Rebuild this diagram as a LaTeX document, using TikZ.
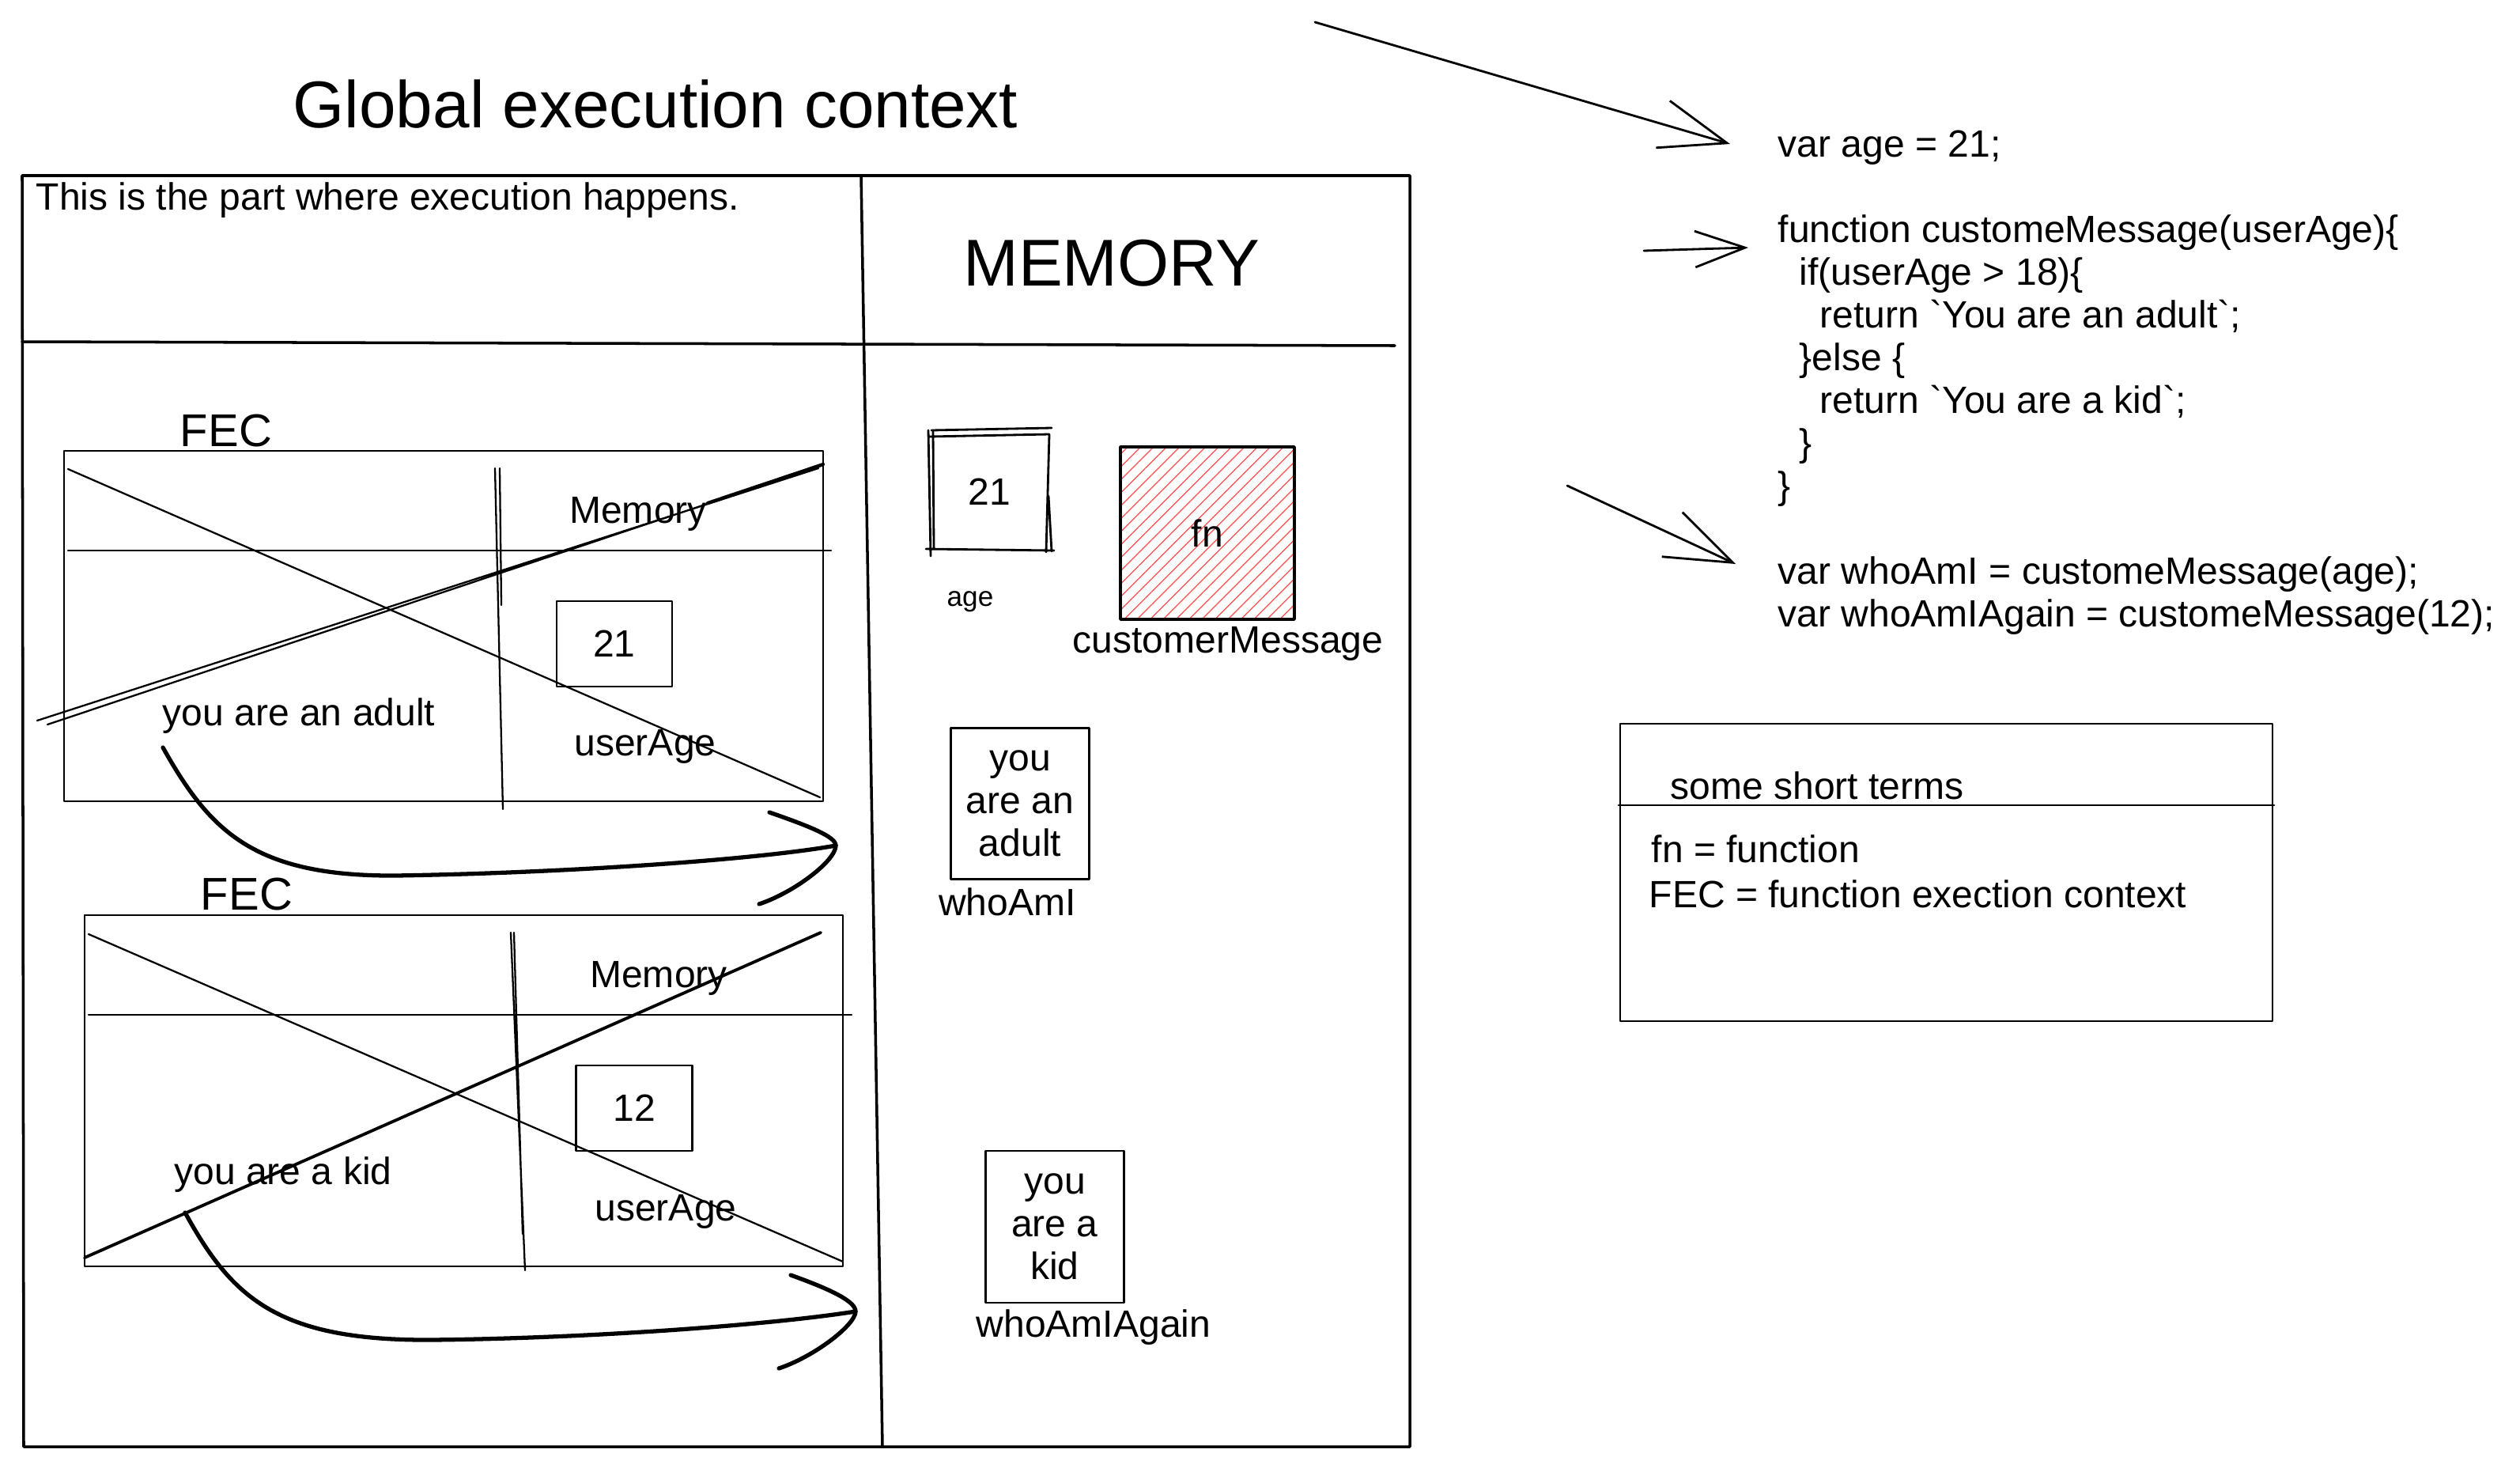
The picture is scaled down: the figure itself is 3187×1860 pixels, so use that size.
\documentclass[tikz,border=0pt]{standalone}
\usepackage{fontspec}
\setmainfont{Liberation Sans}
\usetikzlibrary{arrows.meta,patterns.meta}

\newcommand{\normaltxt}{\fontsize{13.66pt}{15.36pt}\selectfont}
\newcommand{\bigtxt}{\fontsize{23.8pt}{28pt}\selectfont}
\newcommand{\fectxt}{\fontsize{16.5pt}{20pt}\selectfont}
\newcommand{\smalltxt}{\fontsize{10pt}{12pt}\selectfont}

\begin{document}
\begin{tikzpicture}[x=0.01cm, y=-0.01cm, inner sep=0pt, font=\normaltxt, line cap=round, line join=round]
        \useasboundingbox (0,0) rectangle (3187,1860);
        % global context frame
        \node[font=\bigtxt] (title) at (829,132) {Global execution context};
        \draw[line width=1pt] (28,222) -- (1783,222) -- (1783,1829) -- (30,1829) -- cycle;
        \draw[line width=1pt] (1089,222) -- (1116,1829);
        \draw[line width=1pt] (28,432) -- (1764,437);
        \node[anchor=west] (exec) at (45,253) {This is the part where execution happens.};
        \node[font=\bigtxt] (memory) at (1406,333) {MEMORY};

        % first FEC
        \node[font=\fectxt] (fecA) at (286,545) {FEC};
        \draw[line width=0.65pt] (81,570) rectangle (1041,1013);
        \draw[line width=0.65pt] (86,696) -- (1051,696);
        \draw[line width=0.65pt] (626,592) -- (636,1023) (632,592) -- (634,765);
        \draw[line width=0.65pt] (86,593) -- (1037,1008);
        \draw[line width=0.65pt] (47,911) -- (1035,592) (60,916) -- (1041,588);
        \draw[line width=1.2pt] (895,636) -- (1041,587);
        \node (memA) at (807,650) {Memory};
        \node[draw, line width=0.65pt, minimum width=1.46cm, minimum height=1.08cm] (valA) at (777,814) {21};
        \node (userA) at (816,944) {userAge};
        \node (adultTxt) at (378,905) {you are an adult};

        % second FEC
        \node[font=\fectxt] (fecB) at (312,1131) {FEC};
        \draw[line width=0.65pt] (107,1157) rectangle (1066,1601);
        \draw[line width=0.65pt] (112,1283) -- (1077,1283);
        \draw[line width=0.65pt] (646,1179) -- (664,1606) (650,1179) -- (661,1560);
        \draw[line width=0.65pt] (112,1181) -- (1066,1595);
        \draw[line width=1.1pt] (107,1590) -- (1038,1179);
        \node (memB) at (833,1237) {Memory};
        \node[draw, line width=0.65pt, minimum width=1.47cm, minimum height=1.08cm] (valB) at (802,1401) {12};
        \node (userB) at (842,1532) {userAge};
        \node (kidTxt) at (358,1485) {you are a kid};

        % returned values go to memory
        \coordinate (adultTail) at (206,945);
        \coordinate (adultTip) at (1057,1069);
        \draw[line width=1.5pt] (adultTail) .. controls (265,1050) and (320,1108) .. (500,1107) .. controls (700,1104) and (950,1088) .. (adultTip);
        \draw[line width=1.5pt] (973,1027) .. controls (1025,1045) and (1057,1058) .. (adultTip) .. controls (1057,1088) and (1005,1128) .. (960,1143);
        \coordinate (kidTail) at (234,1533);
        \coordinate (kidTip) at (1082,1658);
        \draw[line width=1.5pt] (kidTail) .. controls (293,1640) and (350,1695) .. (545,1694) .. controls (745,1692) and (975,1675) .. (kidTip);
        \draw[line width=1.5pt] (1000,1612) .. controls (1050,1630) and (1082,1645) .. (kidTip) .. controls (1082,1675) and (1030,1715) .. (985,1730);

        % memory cells
        \node (ageVal) at (1251,622) {21};
        \draw[line width=0.8pt] (1178,544) -- (1330,541) (1175,552) -- (1327,549) (1174,544) -- (1177,703) (1180,546) -- (1181,693)
            (1171,694) -- (1333,696) (1327,549) -- (1323,698) (1326,627) -- (1330,697);
        \node[font=\smalltxt] (ageName) at (1227,761) {age};
        \node[draw, line width=1pt, pattern={Lines[angle=45,distance=3.3pt,line width=0.35pt]}, pattern color=red!70,
            minimum width=2.2cm, minimum height=2.18cm] (fnBox) at (1527,674) {fn};
        \node (custName) at (1553,814) {customerMessage};
        \node[draw, line width=0.65pt, minimum width=1.75cm, minimum height=1.91cm, align=center] (whoBox) at (1290,1016) {you\\are an\\adult};
        \node (whoName) at (1274,1140) {whoAmI};
        \node[draw, line width=0.65pt, minimum width=1.75cm, minimum height=1.92cm, align=center] (againBox) at (1334,1551) {you\\are a\\kid};
        \node (againName) at (1383,1678) {whoAmIAgain};

        % the code
        \node[anchor=north west, align=left] (code) at (2248,164) {var age = 21;\\[0.54cm]
            function customeMessage(userAge)\{\\
            \hspace*{0.27cm}if(userAge > 18)\{\\
            \hspace*{0.53cm}return \textasciigrave You are an adult\textasciigrave;\\
            \hspace*{0.27cm}\}else \{\\
            \hspace*{0.53cm}return \textasciigrave You are a kid\textasciigrave;\\
            \hspace*{0.27cm}\}\\
            \}\\[0.54cm]
            var whoAmI = customeMessage(age);\\
            var whoAmIAgain = customeMessage(12);};
        \coordinate (arrA) at (1663,28);
        \coordinate (arrAtip) at (2188,182);
        \coordinate (arrB) at (2079,317);
        \coordinate (arrBtip) at (2211,313);
        \coordinate (arrC) at (1982,614);
        \coordinate (arrCtip) at (2195,713);
        \draw[line width=0.8pt, -{Straight Barb[length=24pt,width=17.6pt]}] (arrA) -- (arrAtip);
        \draw[line width=0.8pt, -{Straight Barb[length=18pt,width=13pt]}] (arrB) -- (arrBtip);
        \draw[line width=0.8pt, -{Straight Barb[length=24pt,width=17.6pt]}] (arrC) -- (arrCtip);

        % short terms
        \draw[line width=0.75pt] (2049,915) rectangle (2874,1291);
        \draw[line width=0.75pt] (2047,1018) -- (2876,1018);
        \node[anchor=west] (termsHead) at (2112,993) {some short terms};
        \node[anchor=west] (termFn) at (2088,1073) {fn = function};
        \node[anchor=west] (termFec) at (2085,1130) {FEC = function exection context};
    \end{tikzpicture}
\end{document}
